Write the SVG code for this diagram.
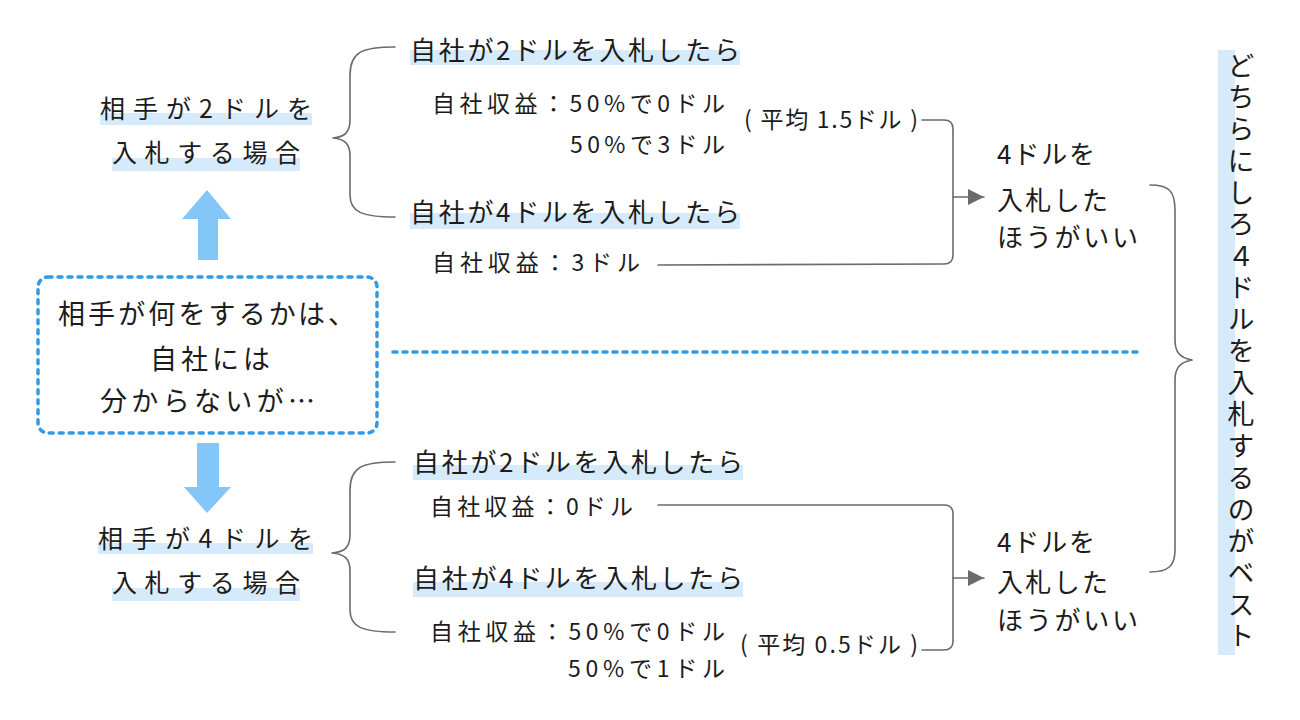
<svg xmlns="http://www.w3.org/2000/svg" width="1300" height="720" viewBox="0 0 1300 720">
<style>
  text { font-family: "Noto Sans CJK JP", "Noto Sans", sans-serif; fill: #1c1c1c; }
  .lg { font-size: 25px; }
  .md { font-size: 26px; }
  .sm { font-size: 23px; }
  .box { font-size: 27px; }
  .hl { fill: #d5eafa; }
  .bluearrow { fill: #82c7f7; }
  .conn { fill: none; stroke: #6b6b6b; stroke-width: 1.6; stroke-linecap: round; stroke-linejoin: round; }
  .dots { fill: none; stroke: #2f9be6; stroke-width: 3.5; stroke-dasharray: 4 6; stroke-linecap: round; }
</style>
<defs>
  <marker id="tri" viewBox="0 0 16 16" refX="16" refY="8" markerWidth="16" markerHeight="16" markerUnits="userSpaceOnUse" orient="auto">
    <path d="M0,0 L16,8 L0,16 z" fill="#6b6b6b"/>
  </marker>
</defs>
<rect width="1300" height="720" fill="#ffffff"/>

<g id="connectors">
  <path class="conn" d="M395,47 C362,47 350,52 350,75 L350,120 C350,132 345,137 333,138 C345,139 350,144 350,156 L350,195 C350,212 362,217 395,217"/>
  <path class="conn" d="M395,462 C362,462 350,467 350,490 L350,535 C350,547 345,552 332,553 C345,554 350,559 350,571 L350,610 C350,627 362,632 395,632"/>
  <path class="conn" d="M1150,185 C1168,185 1175,190 1175,210 L1175,340 C1175,352 1180,358 1192,360 C1180,362 1175,368 1175,380 L1175,550 C1175,566 1168,572 1150,572"/>
  <path class="conn" d="M922,120 L944,120 Q953,120 953,129 L953,255 Q953,264 944,264 L658,265"/>
  <path class="conn" d="M953,197 L984,197" marker-end="url(#tri)"/>
  <path class="conn" d="M658,505 L944,505 Q953,505 953,514 L953,641 Q953,650 944,650 L922,650"/>
  <path class="conn" d="M953,578 L984,578" marker-end="url(#tri)"/>
  <path class="dots" d="M393,352 L1140,352"/>
  <polygon class="bluearrow" points="207,190 231,219 218,219 218,260 198,260 198,219 182,219"/>
  <polygon class="bluearrow" points="197,443 219,443 219,487 231,487 207,513 184,487 197,487"/>
</g>

<g id="node-premise">
  <rect class="dots" x="38" y="277" width="339" height="156" rx="10" ry="10"/>
  <text class="box" x="58" y="324" textLength="297" lengthAdjust="spacing">相手が何をするかは、</text>
  <text class="box" x="150" y="369" textLength="120" lengthAdjust="spacing">自社には</text>
  <text class="box" x="100" y="411" textLength="215" lengthAdjust="spacing">分からないが…</text>
</g>

<g id="node-opp2">
  <rect class="hl" x="100" y="113" width="212" height="12"/>
  <rect class="hl" x="112" y="158" width="188" height="13"/>
  <text class="lg" x="100" y="118" textLength="212" lengthAdjust="spacing">相手が2ドルを</text>
  <text class="lg" x="112" y="162" textLength="188" lengthAdjust="spacing">入札する場合</text>
</g>

<g id="node-opp4">
  <rect class="hl" x="98" y="543" width="215" height="11"/>
  <rect class="hl" x="112" y="588" width="188" height="13"/>
  <text class="lg" x="98" y="548" textLength="215" lengthAdjust="spacing">相手が4ドルを</text>
  <text class="lg" x="112" y="592" textLength="188" lengthAdjust="spacing">入札する場合</text>
</g>

<g id="node-top-bid2">
  <rect class="hl" x="410" y="50" width="330" height="15"/>
  <text class="md" x="410" y="60" textLength="330" lengthAdjust="spacing">自社が2ドルを入札したら</text>
  <text class="sm" x="432" y="112" textLength="293" lengthAdjust="spacing">自社収益：50%で0ドル</text>
  <text class="sm" x="570" y="153" textLength="155" lengthAdjust="spacing">50%で3ドル</text>
  <text class="sm" x="744" y="128" textLength="174" lengthAdjust="spacing">( 平均 1.5ドル )</text>
</g>

<g id="node-top-bid4">
  <rect class="hl" x="410" y="213" width="330" height="16"/>
  <text class="md" x="410" y="222" textLength="330" lengthAdjust="spacing">自社が4ドルを入札したら</text>
  <text class="sm" x="432" y="271" textLength="208" lengthAdjust="spacing">自社収益：3ドル</text>
</g>

<g id="node-bot-bid2">
  <rect class="hl" x="413" y="465" width="330" height="15"/>
  <text class="md" x="413" y="472" textLength="330" lengthAdjust="spacing">自社が2ドルを入札したら</text>
  <text class="sm" x="430" y="515" textLength="203" lengthAdjust="spacing">自社収益：0ドル</text>
</g>

<g id="node-bot-bid4">
  <rect class="hl" x="413" y="582" width="330" height="15"/>
  <text class="md" x="413" y="588" textLength="330" lengthAdjust="spacing">自社が4ドルを入札したら</text>
  <text class="sm" x="430" y="640" textLength="295" lengthAdjust="spacing">自社収益：50%で0ドル</text>
  <text class="sm" x="568" y="677" textLength="157" lengthAdjust="spacing">50%で1ドル</text>
  <text class="sm" x="740" y="653" textLength="178" lengthAdjust="spacing">( 平均 0.5ドル )</text>
</g>

<g id="node-top-result">
  <text class="md" x="997" y="164" textLength="98" lengthAdjust="spacing">4ドルを</text>
  <text class="md" x="997" y="210" textLength="111" lengthAdjust="spacing">入札した</text>
  <text class="md" x="997" y="247" textLength="141" lengthAdjust="spacing">ほうがいい</text>
</g>

<g id="node-bot-result">
  <text class="md" x="997" y="552" textLength="98" lengthAdjust="spacing">4ドルを</text>
  <text class="md" x="997" y="592" textLength="111" lengthAdjust="spacing">入札した</text>
  <text class="md" x="997" y="630" textLength="141" lengthAdjust="spacing">ほうがいい</text>
</g>

<g id="node-conclusion">
  <rect class="hl" x="1218" y="50" width="17" height="605"/>
  <text x="1241" y="52" style="writing-mode: vertical-rl; font-size: 27px; letter-spacing: 4.7px;">どちらにしろ４ドルを入札するのがベスト</text>
</g>
</svg>
